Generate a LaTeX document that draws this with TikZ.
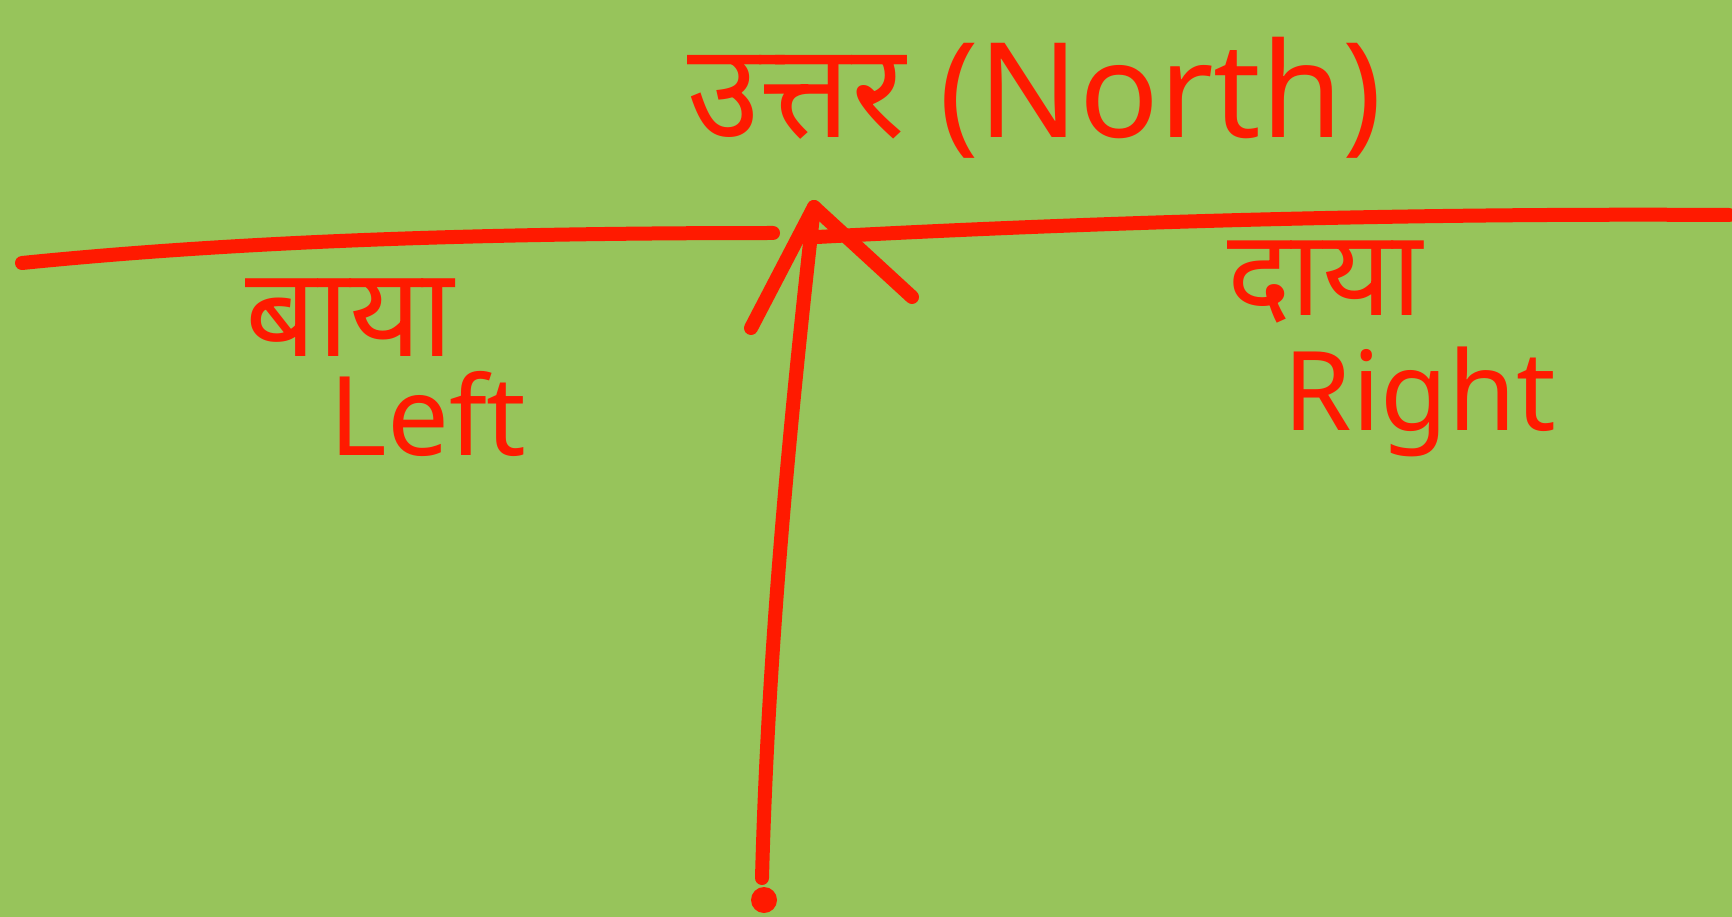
\documentclass[tikz,border=0pt]{standalone}
\usepackage{fontspec}
\setmainfont{Noto Sans}
\newfontfamily\devfont[Script=Devanagari]{Noto Sans}
\definecolor{pen}{HTML}{FF1A00}
\definecolor{board}{HTML}{97C45B}
\begin{document}
\begin{tikzpicture}[x = 1pt, y = -1pt]
		\tikzstyle{every node} = [text = pen, inner sep = 0pt]
		\tikzset{stroke/.style = {draw = pen, line width = 14pt, line cap = round, line join = round}}
		\fill[board] (0,0) rectangle (1732,917);
		\useasboundingbox (0,0) rectangle (1732,917);

		% horizon, left and right half
		\coordinate (w) at (22,263);
		\coordinate (wm) at (773,233);
		\coordinate (em) at (817,237);
		\coordinate (e) at (1729,215);
		\draw [stroke] (w) .. controls (250,240) and (500,233) .. (wm);
		\draw [stroke] (em) .. controls (1100,222) and (1400,213) .. (e);

		% north arrow
		\coordinate (tail) at (762,878);
		\coordinate (apex) at (814,207);
		\coordinate (barbl) at (751,328);
		\coordinate (barbr) at (912,297);
		\draw [stroke] (tail) .. controls (768,650) and (790,420) .. (apex);
		\draw [stroke] (barbl) -- (apex) -- (barbr); %arrow head
		\node [circle, fill = pen, minimum size = 26pt] (dot) at (764,900) {};

		% labels
		\node (north) at (1035,98) {\fontsize{132}{140}\selectfont\devfont उत्तर\rmfamily\ (North)};
		\node (baya) at (350,318) {\fontsize{125}{130}\selectfont\devfont बाया};
		\node (left) at (428,414) {\fontsize{110}{120}\selectfont Left};
		\node (daya) at (1325,282) {\fontsize{120}{130}\selectfont\devfont दाया};
		\node (right) at (1420,402) {\fontsize{110}{120}\selectfont Right};
\end{tikzpicture}
\end{document}
